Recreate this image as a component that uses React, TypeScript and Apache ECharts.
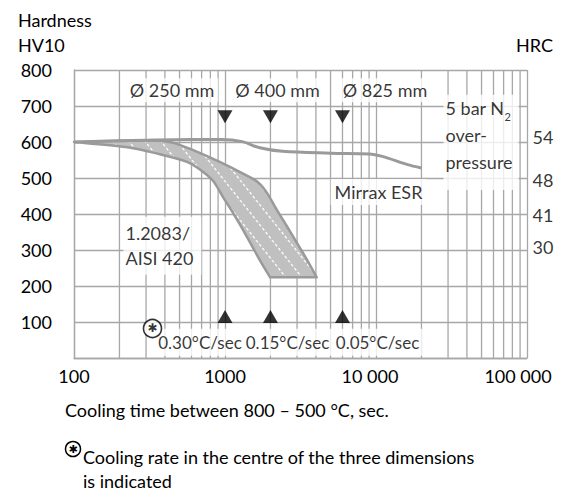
import React, { useEffect, useRef } from 'react';
import * as echarts from 'echarts';

const FONT = 'Lato, "Open Sans", "DejaVu Sans", sans-serif';
const GRID = '#a7a7a7';
const TEXT = '#000';
const CURVE = '#9a9a9a';

// cooling time axis (s, log) — minor grid lines
const minorTimes = [
  200, 300, 400, 500, 600, 700, 800, 900,
  2000, 3000, 4000, 5000, 6000, 7000, 8000, 9000,
  20000, 30000, 40000, 50000, 60000, 70000, 80000, 90000,
];

// Mirrax ESR hardness curve
const mirraxTime = [100, 300, 600, 950, 1300, 1700, 2400, 5000, 9000, 11000, 16000, 20000];
const mirraxHV = [600, 605, 607, 607, 601, 584, 574, 569, 567, 560, 538, 528];

// 1.2083 / AISI 420 scatter band
const bandUpperTime = [100, 300, 430, 500, 680, 930, 1250, 1630, 1900, 2200, 2570, 3000, 3500, 4050];
const bandUpperHV = [600, 604, 600, 592, 570, 544, 517, 490, 458, 412, 366, 319, 272, 224];
const bandLowerTime = [100, 220, 370, 560, 680, 830, 970, 1130, 1400, 1700, 1990];
const bandLowerHV = [600, 586, 566, 545, 524, 493, 447, 403, 336, 272, 224];

// cooling-rate markers for the three diameters
const markerTimes = [1000, 2000, 6000];
const diameterLabels = ['Ø 250 mm', 'Ø 400 mm', 'Ø 825 mm'];
const rateLabels = ['0.30°C/sec', '0.15°C/sec', '0.05°C/sec'];
const topMarkerHV = 670;
const bottomMarkerHV = 115;

// annotation anchors (data coordinates)
const diameterLabelAt = [[446, 744], [2228, 744], [11470, 744]];
const rateLabelAt = [[683, 44], [2594, 44], [10236, 44]];
const starAt = [331, 82];
const mirraxLabelAt = [10390, 461];
const steelLabelAt = [211, 312];
const pressureLabelAt = [27780, 599];

// secondary HRC scale
const hrcValues = [54, 48, 41, 30];
const hrcAtHV = [615, 494, 397, 309];

function makeHatch(): HTMLCanvasElement {
  const w = 16, h = 20;
  const c = document.createElement('canvas');
  c.width = w; c.height = h;
  const ctx = c.getContext('2d')!;
  ctx.fillStyle = '#c0c0c0';
  ctx.fillRect(0, 0, w, h);
  ctx.strokeStyle = 'rgba(255,255,255,0.92)';
  ctx.lineWidth = 1.3;
  const per = Math.hypot(w, h) / 5;
  ctx.setLineDash([per * 0.6, per * 0.4]);
  for (const k of [-1, 0, 1]) {
    ctx.beginPath();
    ctx.moveTo(k * w, 0);
    ctx.lineTo(k * w + w, h);
    ctx.stroke();
  }
  return c;
}

function catmull(pts: number[][]): string {
  let d = '';
  for (let i = 0; i < pts.length - 1; i++) {
    const p0 = pts[Math.max(0, i - 1)];
    const p1 = pts[i];
    const p2 = pts[i + 1];
    const p3 = pts[Math.min(pts.length - 1, i + 2)];
    const c1x = p1[0] + (p2[0] - p0[0]) / 6;
    const c1y = p1[1] + (p2[1] - p0[1]) / 6;
    const c2x = p2[0] - (p3[0] - p1[0]) / 6;
    const c2y = p2[1] - (p3[1] - p1[1]) / 6;
    d += ` C${c1x},${c1y} ${c2x},${c2y} ${p2[0]},${p2[1]}`;
  }
  return d;
}

const fmtTime = (v: number) => {
  if (v === 10000) return '{a|10 000}';
  if (v === 100000) return '{b|100 000}';
  return String(v);
};

export default function App() {
  const ref = useRef<HTMLDivElement>(null);
  useEffect(() => {
    if (!ref.current) return;
    const chart = echarts.init(ref.current, null, { renderer: 'svg' });
    const hatch = makeHatch();
    const lbl = { fontSize: 18, fontFamily: FONT, color: TEXT };
    const invisible = { color: 'rgba(0,0,0,0)' };

    const option: any = {
      animation: false,
      textStyle: { fontFamily: FONT },
      grid: { left: 74, top: 70, width: 453, height: 288 },
      xAxis: {
        type: 'log', logBase: 10, min: 100, max: 100000,
        axisLine: { show: true, lineStyle: { color: GRID, width: 1.3 } },
        axisTick: { show: false },
        splitLine: { show: true, lineStyle: { color: GRID, width: 1.3 } },
        axisLabel: {
          ...lbl, margin: 9, formatter: fmtTime,
          rich: {
            a: { ...lbl, padding: [0, 12, 0, 0] },
            b: { ...lbl, padding: [0, 18, 0, 0] },
          },
        },
      },
      yAxis: {
        type: 'value', min: 0, max: 800, interval: 100,
        axisLine: { show: true, lineStyle: { color: GRID, width: 1.3 } },
        axisTick: { show: false },
        splitLine: { show: true, lineStyle: { color: GRID, width: 1.3 } },
        axisLabel: { ...lbl, margin: 22, formatter: (v: number) => (v === 0 ? '' : String(v)) },
      },
      series: [
        {
          type: 'custom', name: 'minor', z: 1, silent: true,
          data: minorTimes.map((t) => [t, 0]),
          renderItem: (_p: any, api: any) => {
            const a = api.coord([api.value(0), 0]);
            const b = api.coord([api.value(0), 800]);
            return { type: 'line', shape: { x1: a[0], y1: a[1], x2: b[0], y2: b[1] }, style: { stroke: GRID, lineWidth: 1.3 } };
          },
        },
        {
          type: 'custom', name: '1.2083 / AISI 420', z: 3, silent: true,
          data: [[bandUpperTime[0], bandUpperHV[0]]],
          renderItem: (_p: any, api: any) => {
            const up = bandUpperTime.map((t, i) => api.coord([t, bandUpperHV[i]]));
            const lo = bandLowerTime.map((t, i) => api.coord([t, bandLowerHV[i]])).reverse();
            const d = `M${up[0][0]},${up[0][1]}` + catmull(up) + ` L${lo[0][0]},${lo[0][1]}` + catmull(lo) + ' Z';
            return {
              type: 'path',
              shape: { pathData: d },
              style: {
                fill: { image: hatch, repeat: 'repeat', imageWidth: 16, imageHeight: 20 },
                stroke: CURVE, lineWidth: 2.5, lineJoin: 'round',
              },
            };
          },
        },
        {
          type: 'line', name: 'Mirrax ESR', z: 4, silent: true,
          data: mirraxTime.map((t, i) => [t, mirraxHV[i]]),
          smooth: 0.35, symbol: 'none',
          lineStyle: { color: CURVE, width: 3 },
        },
        {
          type: 'scatter', name: 'labels', z: 10, silent: true, clip: false,
          symbolSize: 1, itemStyle: invisible,
          label: { show: true, formatter: (p: any) => p.name },
          data: [
            ...diameterLabels.map((t, i) => ({
              name: t, value: diameterLabelAt[i],
              label: { ...lbl, position: 'inside', backgroundColor: '#fff', padding: [3, 4] },
            })),
            ...rateLabels.map((t, i) => ({
              name: t, value: rateLabelAt[i],
              label: { ...lbl, fontSize: 17, position: 'inside', backgroundColor: '#fff', padding: [5, 3] },
            })),
            {
              name: 'Mirrax ESR', value: mirraxLabelAt,
              label: { ...lbl, position: 'inside', backgroundColor: '#fff', padding: [4, 4] },
            },
            {
              name: '1.2083/\nAISI 420', value: steelLabelAt,
              label: { ...lbl, position: 'right', distance: 0, lineHeight: 25, backgroundColor: '#fff', padding: [2, 8, 6, 2] },
            },
            {
              name: '5 bar N2 over-pressure', value: pressureLabelAt,
              label: {
                ...lbl, position: 'right', distance: 0, lineHeight: 26.7,
                backgroundColor: '#fff', padding: [0, 6, 15, 2],
                formatter: '5 bar N{sub|2}\nover-\npressure',
                rich: { sub: { fontSize: 11, fontFamily: FONT, color: TEXT, verticalAlign: 'bottom', lineHeight: 12 } },
              },
            },
          ],
        },
        {
          type: 'scatter', name: 'HRC', z: 10, silent: true, clip: false,
          symbolSize: 1, itemStyle: invisible,
          label: { show: true, ...lbl, position: 'right', distance: 5, formatter: (p: any) => p.name },
          data: hrcAtHV.map((hv, i) => ({ name: String(hrcValues[i]), value: [100000, hv] })),
        },
        {
          type: 'scatter', name: 'top markers', z: 11, silent: true, clip: false,
          symbol: 'triangle', symbolSize: [15, 13], symbolRotate: 180,
          itemStyle: { color: '#000' },
          data: markerTimes.map((t) => [t, topMarkerHV]),
        },
        {
          type: 'scatter', name: 'bottom markers', z: 11, silent: true, clip: false,
          symbol: 'triangle', symbolSize: [15, 13],
          itemStyle: { color: '#000' },
          data: markerTimes.map((t) => [t, bottomMarkerHV]),
        },
        {
          type: 'scatter', name: 'star', z: 12, silent: true, clip: false,
          symbol: 'circle', symbolSize: 18,
          itemStyle: { color: '#fff', borderColor: '#000', borderWidth: 1.6 },
          label: { show: true, position: 'inside', formatter: '✱', fontSize: 12, color: '#000', fontFamily: '"DejaVu Sans"' },
          data: [starAt],
        },
      ],
      graphic: {
        elements: [
          { type: 'text', x: 18, y: 20, style: { text: 'Hardness', ...lbl, fill: TEXT, verticalAlign: 'middle', textVerticalAlign: 'middle' } },
          { type: 'text', x: 18, y: 45, style: { text: 'HV10', ...lbl, fill: TEXT, verticalAlign: 'middle', textVerticalAlign: 'middle' } },
          { type: 'text', x: 553, y: 45, style: { text: 'HRC', ...lbl, fill: TEXT, align: 'right', textAlign: 'right', verticalAlign: 'middle', textVerticalAlign: 'middle' } },
          { type: 'text', x: 65, y: 410, style: { text: 'Cooling time between 800 – 500 °C, sec.', ...lbl, fill: TEXT, verticalAlign: 'middle', textVerticalAlign: 'middle' } },
          { type: 'circle', shape: { cx: 73, cy: 449, r: 7.5 }, style: { fill: '#fff', stroke: '#000', lineWidth: 1.5 } },
          { type: 'text', x: 73, y: 449, style: { text: '✱', fontSize: 11, fontFamily: '"DejaVu Sans"', fill: '#000', align: 'center', textAlign: 'center', verticalAlign: 'middle', textVerticalAlign: 'middle' } },
          { type: 'text', x: 83, y: 457, style: { text: 'Cooling rate in the centre of the three dimensions', ...lbl, fill: TEXT, verticalAlign: 'middle', textVerticalAlign: 'middle' } },
          { type: 'text', x: 83, y: 481, style: { text: 'is indicated', ...lbl, fill: TEXT, verticalAlign: 'middle', textVerticalAlign: 'middle' } },
        ],
      },
    };
    chart.setOption(option);
    return () => chart.dispose();
  }, []);
  return <div ref={ref} style={{ position: 'absolute', left: 0, top: 0, width: 563, height: 493, background: '#fff' }} />;
}
